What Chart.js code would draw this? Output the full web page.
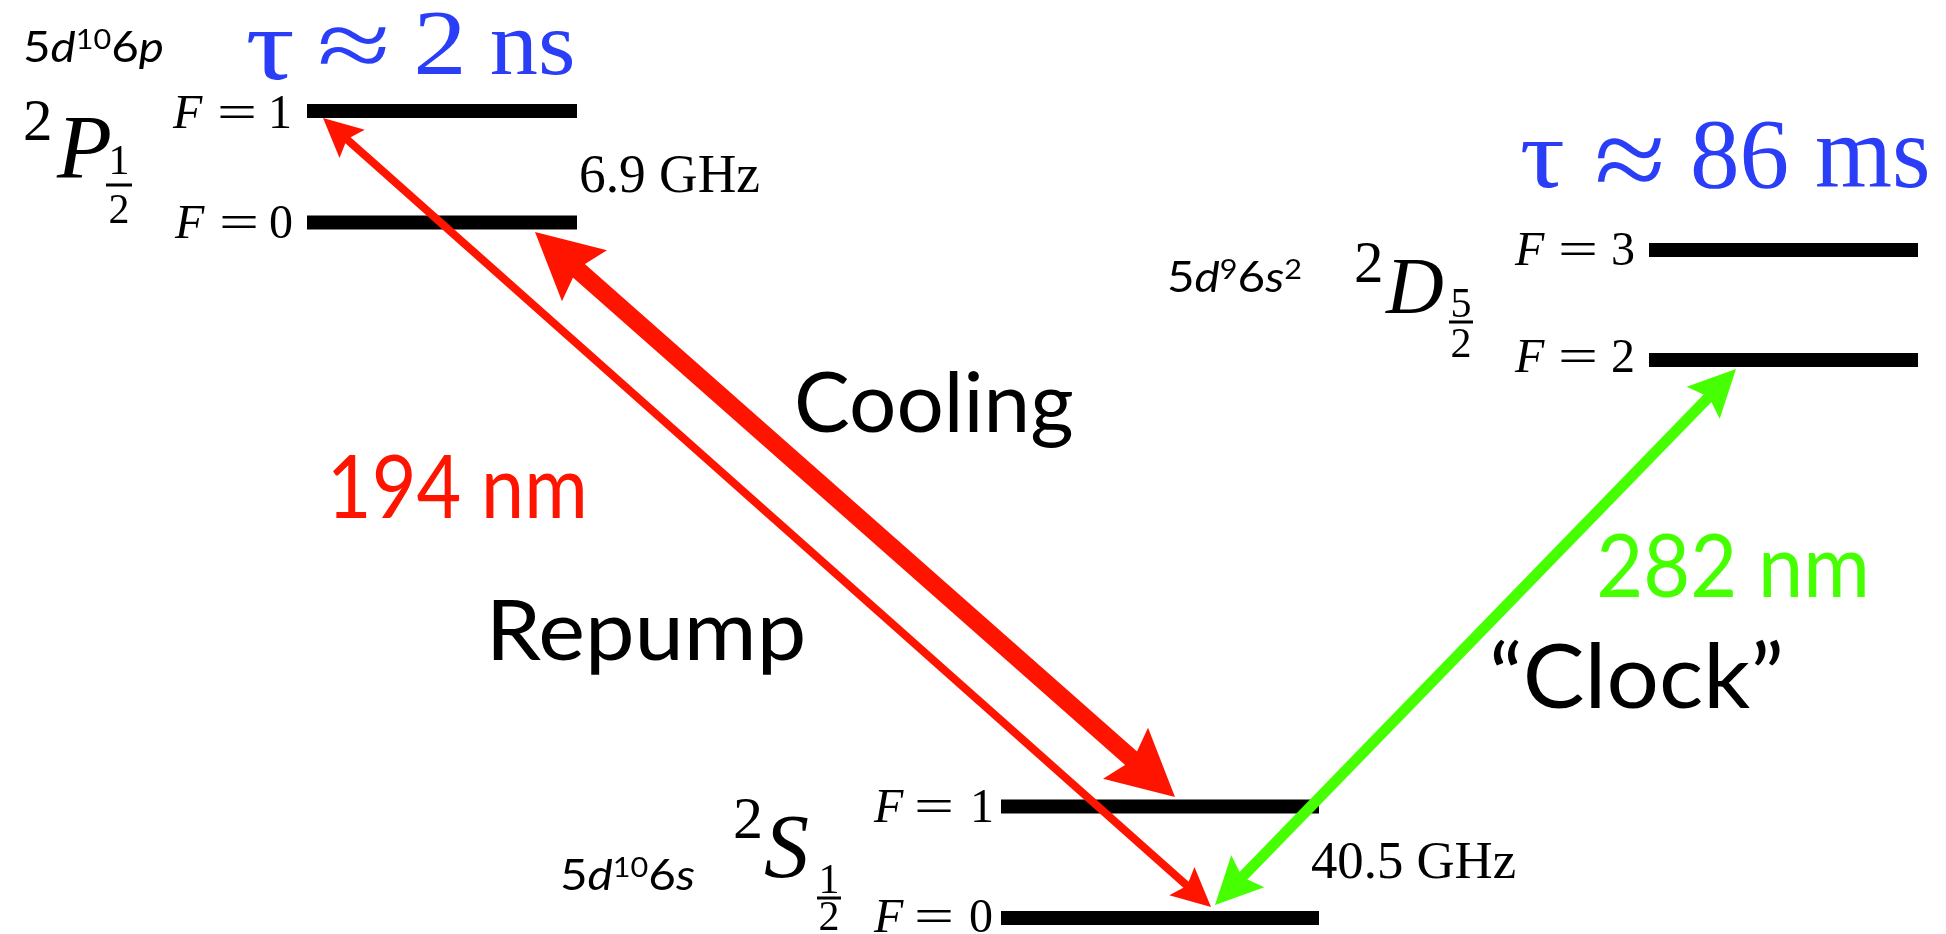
<!DOCTYPE html>
<html>
<head>
<meta charset="utf-8">
<script src="https://cdn.jsdelivr.net/npm/chart.js@4.4.1/dist/chart.umd.min.js"></script>
<style>
html, body { margin: 0; padding: 0; background: #fff; overflow: hidden; }
#wrap { position: relative; width: 1946px; height: 934px; }
</style>
</head>
<body>
<div id="wrap"><canvas id="levels"></canvas></div>
<script>
// energy levels (x from left edge, E = height above the bottom of the diagram)
const levelNames = ['2P1/2 F=1', '2P1/2 F=0', '2D5/2 F=3', '2D5/2 F=2', '2S1/2 F=1', '2S1/2 F=0'];
const levelX0 = [307, 307, 1649, 1649, 1001, 1001];
const levelX1 = [577, 577, 1918, 1918, 1319, 1319];
const levelE = [823, 711.5, 684, 574, 127.5, 16];

// transitions, both ends have arrow heads
const arrowNames = ['Repump', 'Cooling', 'Clock'];
const arrowX0 = [323, 535, 1736];
const arrowE0 = [816, 702, 565];
const arrowX1 = [1211, 1175, 1215];
const arrowE1 = [27, 137, 29];

const RED = '#ff1400';
const GREEN = '#46ff00';
const BLUE = '#2b3ef7';
const SERIF = '"Liberation Serif", "DejaVu Serif", serif';
const SANS = 'Lato, "Open Sans", sans-serif';

// line width / head length / head half width / notch depth
const arrowStyle = {
    Repump:  { color: RED,   width: 8,  len: 39, half: 19, notch: 32 },
    Cooling: { color: RED,   width: 18, len: 66, half: 34, notch: 56 },
    Clock:   { color: GREEN, width: 11, len: 47, half: 23, notch: 39 }
};

const datasets = [];
levelNames.forEach((name, i) => {
    datasets.push({
        label: name,
        data: [{ x: levelX0[i], y: levelE[i] }, { x: levelX1[i], y: levelE[i] }],
        showLine: true,
        borderColor: '#000',
        borderWidth: 14,
        borderCapStyle: 'butt',
        pointRadius: 0
    });
});
arrowNames.forEach((name, i) => {
    datasets.push({
        label: name,
        isArrow: true,
        data: [{ x: arrowX0[i], y: arrowE0[i] }, { x: arrowX1[i], y: arrowE1[i] }],
        showLine: false,
        pointRadius: 0
    });
});

function head(ctx, tx, ty, dx, dy, s) {
    // (dx,dy) points from the tip back along the shaft
    const nx = -dy, ny = dx;
    ctx.beginPath();
    ctx.moveTo(tx, ty);
    ctx.lineTo(tx + dx * s.len + nx * s.half, ty + dy * s.len + ny * s.half);
    ctx.lineTo(tx + dx * s.notch, ty + dy * s.notch);
    ctx.lineTo(tx + dx * s.len - nx * s.half, ty + dy * s.len - ny * s.half);
    ctx.closePath();
    ctx.fill();
}

const arrowPlugin = {
    id: 'arrows',
    afterDatasetsDraw(chart) {
        const ctx = chart.ctx;
        chart.data.datasets.forEach((ds, i) => {
            if (!ds.isArrow) return;
            const pts = chart.getDatasetMeta(i).data;
            const s = arrowStyle[ds.label];
            const ax = pts[0].x, ay = pts[0].y, bx = pts[1].x, by = pts[1].y;
            const L = Math.hypot(bx - ax, by - ay);
            const ux = (bx - ax) / L, uy = (by - ay) / L;
            ctx.save();
            ctx.strokeStyle = s.color;
            ctx.fillStyle = s.color;
            ctx.lineWidth = s.width;
            ctx.lineCap = 'butt';
            ctx.beginPath();
            ctx.moveTo(ax + ux * (s.notch - 2), ay + uy * (s.notch - 2));
            ctx.lineTo(bx - ux * (s.notch - 2), by - uy * (s.notch - 2));
            ctx.stroke();
            head(ctx, ax, ay, ux, uy, s);
            head(ctx, bx, by, -ux, -uy, s);
            ctx.restore();
        });
    }
};

// text placed by its ink box: left edge x, baseline y, optional ink width w
function ink(ctx, str, font, x, y, color, w) {
    ctx.font = font;
    ctx.fillStyle = color;
    ctx.textAlign = 'left';
    const m = ctx.measureText(str);
    const iw = m.actualBoundingBoxLeft + m.actualBoundingBoxRight;
    const sx = w ? w / iw : 1;
    ctx.save();
    ctx.translate(x, y);
    ctx.scale(sx, 1);
    ctx.fillText(str, m.actualBoundingBoxLeft, 0);
    ctx.restore();
}

// text stretched into an ink box (left, top, width, height)
function inkBox(ctx, str, font, x, top, w, h, color) {
    ctx.font = font;
    ctx.fillStyle = color;
    ctx.textAlign = 'left';
    const m = ctx.measureText(str);
    const iw = m.actualBoundingBoxLeft + m.actualBoundingBoxRight;
    const ih = m.actualBoundingBoxAscent + m.actualBoundingBoxDescent;
    ctx.save();
    ctx.translate(x, top);
    ctx.scale(w / iw, h / ih);
    ctx.fillText(str, m.actualBoundingBoxLeft, m.actualBoundingBoxAscent);
    ctx.restore();
}

// mixed runs like 5d¹⁰6p, squeezed to width w
function rich(ctx, parts, x, y, w, color) {
    let total = 0;
    parts.forEach(p => {
        ctx.font = p.font;
        p.adv = ctx.measureText(p.t).width;
        total += p.adv;
    });
    ctx.save();
    ctx.fillStyle = color;
    ctx.textAlign = 'left';
    ctx.translate(x, y);
    ctx.scale(w / total, 1);
    let cx = 0;
    parts.forEach(p => {
        ctx.font = p.font;
        ctx.fillText(p.t, cx, p.dy || 0);
        cx += p.adv;
    });
    ctx.restore();
}

function config(ctx, x, y, w, sup1, d2, sup2) {
    const f = '42px ' + SANS, fi = 'italic 42px ' + SANS, fs = '27px ' + SANS;
    const parts = [{ t: '5', font: f }, { t: 'd', font: fi }, { t: sup1, font: fs, dy: -13 },
                   { t: '6', font: f }, { t: d2, font: fi }];
    if (sup2) parts.push({ t: sup2, font: fs, dy: -13 });
    rich(ctx, parts, x, y, w, '#000');
}

function term(ctx, letter, x2, y2, size2, xL, yL, sizeL, num, den, cx, yNum, yBar, yDen, barW) {
    ink(ctx, '2', size2 + 'px ' + SERIF, x2, y2, '#000');
    ink(ctx, letter, 'italic ' + sizeL + 'px ' + SERIF, xL, yL, '#000');
    ctx.save();
    ctx.fillStyle = '#000';
    ctx.textAlign = 'center';
    ctx.font = '42px ' + SERIF;
    ctx.fillText(num, cx, yNum);
    ctx.fillText(den, cx, yDen);
    ctx.fillRect(cx - barW / 2, yBar - 1.5, barW, 3);
    ctx.restore();
}

function fLabel(ctx, xF, xEq, xN, y, n) {
    ink(ctx, 'F', 'italic 48px ' + SERIF, xF, y, '#000');
    ink(ctx, '=', '48px ' + SERIF, xEq, y, '#000', 34);
    ink(ctx, n, '48px ' + SERIF, xN, y, '#000');
}

const textPlugin = {
    id: 'labels',
    afterDraw(chart) {
        const ctx = chart.ctx;
        ctx.save();
        // lifetimes
        inkBox(ctx, 'τ', '88px ' + SERIF, 247, 32, 46, 48, BLUE);
        inkBox(ctx, '≈', '88px ' + SERIF, 320, 27, 67, 38, BLUE);
        inkBox(ctx, '2', '88px ' + SERIF, 417, 12, 45, 63, BLUE);
        inkBox(ctx, 'ns', '88px ' + SERIF, 492, 30, 81, 45, BLUE);
        inkBox(ctx, 'τ', '96px ' + SERIF, 1522, 142, 41, 46, BLUE);
        inkBox(ctx, '≈', '96px ' + SERIF, 1597, 138, 65, 44, BLUE);
        inkBox(ctx, '86', '96px ' + SERIF, 1693, 120, 94, 68, BLUE);
        inkBox(ctx, 'ms', '96px ' + SERIF, 1817, 138, 110, 50, BLUE);

        // configurations
        config(ctx, 23, 62, 141, '10', 'p');
        config(ctx, 1167, 292, 135, '9', 's', '2');
        config(ctx, 560, 890, 135, '10', 's');

        // term symbols
        term(ctx, 'P', 25, 140, 59, 56, 178, 90, '1', '2', 119, 174, 185, 223, 26);
        term(ctx, 'D', 1356, 282, 59, 1385, 313, 80, '5', '2', 1461, 317, 322, 357, 24);
        term(ctx, 'S', 735, 838, 60, 765, 877, 90, '1', '2', 829, 893, 898, 930, 24);

        // hyperfine labels
        fLabel(ctx, 172, 220, 272, 128, '1');
        fLabel(ctx, 174, 222, 270, 238, '0');
        fLabel(ctx, 1514, 1561, 1613, 265, '3');
        fLabel(ctx, 1514, 1561, 1613, 372, '2');
        fLabel(ctx, 873, 917, 974, 822, '1');
        fLabel(ctx, 873, 917, 970, 932, '0');

        ink(ctx, '6.9 GHz', '54px ' + SERIF, 581, 192, '#000', 178);
        ink(ctx, '40.5 GHz', '52px ' + SERIF, 1312, 878, '#000', 203);

        // transition labels
        ink(ctx, 'Cooling', '84px ' + SANS, 797, 432, '#000', 275);
        ink(ctx, 'Repump', '84px ' + SANS, 493, 660, '#000', 310);
        ink(ctx, '\u201cClock\u201d', '90px ' + SANS, 1493, 708, '#000', 287);
        ink(ctx, '194 nm', '88px ' + SANS, 333, 518, RED, 250);
        ink(ctx, '282 nm', '88px ' + SANS, 1600, 597, GREEN, 265);
        ctx.restore();
    }
};

new Chart(document.getElementById('levels'), {
    type: 'scatter',
    data: { datasets: datasets },
    options: {
        responsive: true,
        maintainAspectRatio: false,
        animation: false,
        events: [],
        layout: { padding: 0 },
        scales: {
            x: { type: 'linear', min: 0, max: 1946, display: false },
            y: { type: 'linear', min: 0, max: 934, display: false }
        },
        plugins: {
            legend: { display: false },
            tooltip: { enabled: false }
        }
    },
    plugins: [arrowPlugin, textPlugin]
});
</script>
</body>
</html>
